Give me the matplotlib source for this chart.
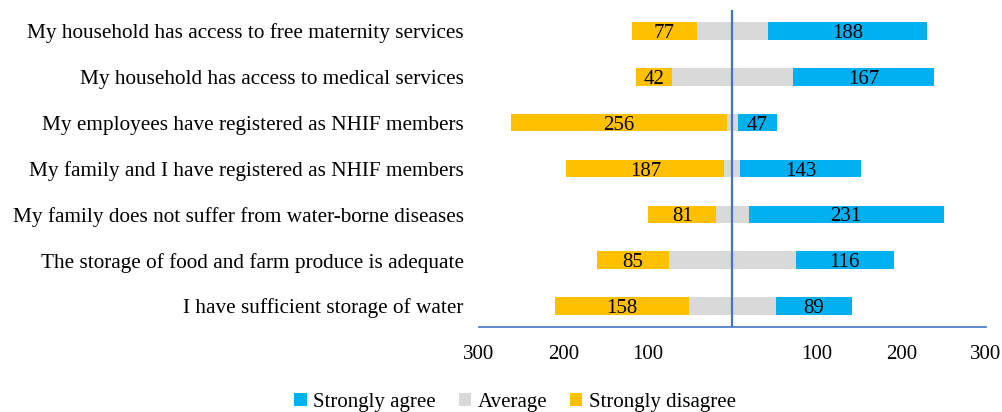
import matplotlib.pyplot as plt
import numpy as np

plt.rcParams["font.family"] = ["Liberation Serif", "DejaVu Serif"]

statements = [
    "My household has access to free maternity services",
    "My household has access to medical services",
    "My employees have registered as NHIF members",
    "My family and I have registered as NHIF members",
    "My family does not suffer from water-borne diseases",
    "The storage of food and farm produce is adequate",
    "I have sufficient storage of water",
]
strongly_agree = [188, 167, 47, 143, 231, 116, 89]
average = [84, 144, 12, 19, 38, 150, 104]
strongly_disagree = [77, 42, 256, 187, 81, 85, 158]

blue = "#00B0F0"
grey = "#D9D9D9"
yellow = "#FFC000"
line_blue = "#4472C4"

agree = np.array(strongly_agree)
avg = np.array(average)
dis = np.array(strongly_disagree)
y = np.arange(len(statements))[::-1]
h = 0.38

fig = plt.figure(figsize=(10.02, 4.12), dpi=100)
ax = fig.add_axes([0.478, 0.206, 0.506, 0.77])

b_avg = ax.barh(y, avg, left=-avg / 2, height=h, color=grey, label="Average")
b_dis = ax.barh(y, dis, left=-avg / 2 - dis, height=h, color=yellow,
                label="Strongly disagree")
b_agr = ax.barh(y, agree, left=avg / 2, height=h, color=blue,
                label="Strongly agree")

for yi, a, d, g in zip(y, agree, dis, avg):
    ax.text(-g / 2 - d / 2, yi, str(d), ha="center", va="center_baseline",
            fontsize=15)
    ax.text(g / 2 + a / 2, yi, str(a), ha="center", va="center_baseline",
            fontsize=15)

ax.axvline(0, color=line_blue, lw=1.6)
ax.set_xlim(-300, 300)
ax.set_ylim(-0.46, 6.46)
ax.set_xticks([-300, -200, -100, 100, 200, 300])
ax.set_xticklabels(["300", "200", "100", "100", "200", "300"], fontsize=15)
ax.set_yticks(y)
ax.set_yticklabels(statements, fontsize=15.3)
ax.tick_params(length=0, axis="y", pad=11)
ax.tick_params(length=0, axis="x", pad=13)
for s in ["top", "right", "left"]:
    ax.spines[s].set_visible(False)
ax.spines["bottom"].set_color(line_blue)
ax.spines["bottom"].set_linewidth(1.2)

fig.legend(handles=[b_agr, b_avg, b_dis], loc="lower center", ncol=3,
           bbox_to_anchor=(0.514, -0.045), frameon=False, fontsize=15,
           handlelength=0.6, handleheight=0.6, handletextpad=0.3,
           columnspacing=1.1)

fig.savefig("out.png", dpi=100)
